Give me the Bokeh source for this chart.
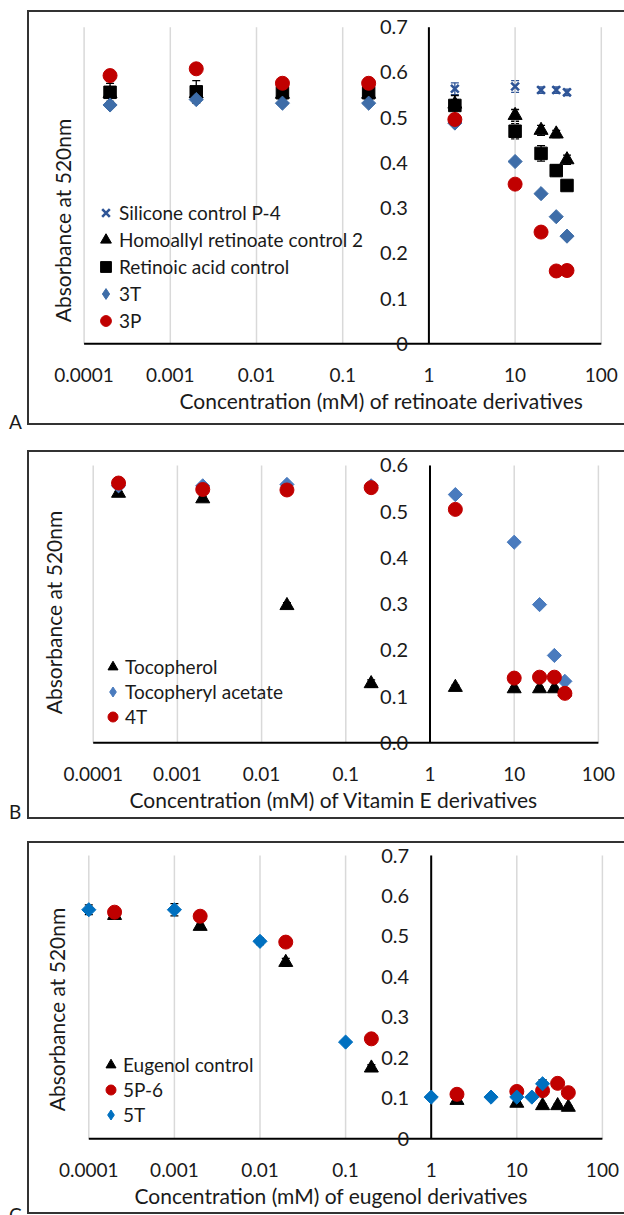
import math
from bokeh.plotting import figure
from bokeh.models import (Range1d, FixedTicker, CustomJSTickFormatter, Legend, LegendItem,
                          Label, LabelSet, ColumnDataSource, Whisker, TeeHead, Div, Spacer, Title)
from bokeh.layouts import column, row
from bokeh.embed import file_html
from bokeh.resources import INLINE
from bokeh.core.properties import value

FONT = "Lato"
TEXT = "#1a1a1a"

# ---------------- shared axis data ----------------
X_TICKS = [0.0001, 0.001, 0.01, 0.1, 1, 10, 100]
X_TICK_LABELS = ["0.0001", "0.001", "0.01", "0.1", "1", "10", "100"]
Y_AXIS_CROSS = 1

# ---------------- Panel A: retinoate derivatives ----------------
A_CONC = [0.0002, 0.002, 0.02, 0.2, 2, 10, 20, 30, 40]
A_SIL_CONC = [2, 10, 20, 30, 40]
A_SILICONE = [0.564, 0.569, 0.561, 0.561, 0.556]
A_SILICONE_ERR = [0.013, 0.013, 0.007, 0.007, 0.007]
A_HOMOALLYL = [0.553, 0.553, 0.552, 0.552, 0.530, 0.505, 0.472, 0.464, 0.407]
A_HOMOALLYL_ERR = [0.008, 0.008, 0.008, 0.008, 0.010, 0.013, 0.011, 0.008, 0.010]
A_RETINOIC = [0.556, 0.557, 0.555, 0.555, 0.527, 0.470, 0.421, 0.383, 0.350]
A_RETINOIC_ERR = [0.020, 0.025, 0.015, 0.015, 0.022, 0.017, 0.017, 0.012, 0.005]
A_3T = [0.528, 0.540, 0.532, 0.532, 0.488, 0.403, 0.332, 0.281, 0.238]
A_3P = [0.593, 0.608, 0.576, 0.576, 0.496, 0.353, 0.247, 0.161, 0.162]
A_YTICKS = [0, 0.1, 0.2, 0.3, 0.4, 0.5, 0.6, 0.7]
A_YLABELS = ["0", "0.1", "0.2", "0.3", "0.4", "0.5", "0.6", "0.7"]
A_XTITLE = "Concentration (mM) of retinoate derivatives"

# ---------------- Panel B: vitamin E derivatives ----------------
B_CONC = [0.0002, 0.002, 0.02, 0.2, 2, 10, 20, 30, 40]
B_TOCOPHEROL = [0.540, 0.528, 0.297, 0.128, 0.120, 0.117, 0.117, 0.117, 0.110]
B_TOCOPHEROL_ERR = [0.004, 0.004, 0.006, 0.008, 0.005, 0.004, 0.004, 0.004, 0.004]
B_ACETATE = [0.556, 0.556, 0.559, 0.556, 0.537, 0.434, 0.299, 0.189, 0.133]
B_4T = [0.562, 0.548, 0.547, 0.552, 0.505, 0.140, 0.142, 0.142, 0.107]
B_YTICKS = [0, 0.1, 0.2, 0.3, 0.4, 0.5, 0.6]
B_YLABELS = ["0.0", "0.1", "0.2", "0.3", "0.4", "0.5", "0.6"]
B_XTITLE = "Concentration (mM) of Vitamin E derivatives"

# ---------------- Panel C: eugenol derivatives ----------------
C_CONC = [0.0002, 0.002, 0.02, 0.2, 2, 10, 20, 30, 40]
C_EUGENOL = [0.552, 0.525, 0.436, 0.175, 0.095, 0.088, 0.082, 0.082, 0.078]
C_EUGENOL_ERR = [0.005, 0.005, 0.010, 0.008, 0.004, 0.004, 0.004, 0.004, 0.004]
C_5P6 = [0.560, 0.550, 0.486, 0.247, 0.110, 0.117, 0.119, 0.137, 0.114]
C_5T_CONC = [0.0001, 0.001, 0.01, 0.1, 1, 5, 10, 15, 20]
C_5T = [0.566, 0.566, 0.488, 0.239, 0.103, 0.103, 0.103, 0.103, 0.136]
C_5T_ERR = [0.012, 0.015, 0.008, 0.004, 0.003, 0.003, 0.003, 0.003, 0.010]
C_YTICKS = [0, 0.1, 0.2, 0.3, 0.4, 0.5, 0.6, 0.7]
C_YLABELS = ["0", "0.1", "0.2", "0.3", "0.4", "0.5", "0.6", "0.7"]
C_XTITLE = "Concentration (mM) of eugenol derivatives"

Y_TITLE = "Absorbance at 520nm"

RED = "#C00000"
BLUE_A = "#3E6DA8"
BLUE_B = "#4A7BBE"
BLUE_C = "#0070C0"
SIL = "#2F5597"
BLACK = "#000000"
GRID = "#d9d9d9"
BOX = "#333333"

W = 595          # canvas width of each panel
LETTER_W = 29    # column holding the panel letter

# pixel layout of each panel (canvas coordinates)
LAYOUT_A = dict(h=411, fl=4, fr=595, x0px=54.6, dec=86.2, y0px=331.3, pxu=452.3, ft=2, fb=343,
                xls=6, xt_off=146, xt_so=6, yt_x=29, yt_y=135, yl_off=-21,
                leg_x=59, leg_y=21, glyph=27,
                div_h=420, letter_pad=400, gap_before=12)
LAYOUT_B = dict(h=365, fl=4, fr=595, x0px=63.7, dec=84.2, y0px=290.3, pxu=462.2, ft=1, fb=302,
                xls=6, xt_off=96, xt_so=6, yt_x=20, yt_y=142, yl_off=-22,
                leg_x=67, leg_y=25, glyph=25,
                div_h=370, letter_pad=350, gap_before=20)
LAYOUT_C = dict(h=369, fl=4, fr=595, x0px=59.3, dec=85.6, y0px=295.3, pxu=404.7, ft=1, fb=306,
                xls=7, xt_off=101, xt_so=6, yt_x=23, yt_y=140, yl_off=-22,
                leg_x=65, leg_y=22, glyph=25,
                div_h=371, letter_pad=362, gap_before=21)


def make_panel(L, series, yticks, ylabels, xtitle, letter):
    log0 = math.log10(X_TICKS[0])
    xstart = 10 ** (log0 - (L["x0px"] - L["fl"]) / L["dec"])
    xend = 10 ** (log0 + (L["fr"] - L["x0px"]) / L["dec"])
    ymax = yticks[-1]
    ystart = -(L["fb"] - L["y0px"]) / L["pxu"]
    yend = (L["y0px"] - L["ft"]) / L["pxu"]
    p = figure(width=W, height=L["h"], x_axis_type="log", y_axis_location=None,
               x_range=Range1d(xstart, xend), y_range=Range1d(ystart, yend),
               output_backend="svg", toolbar_location=None, title=None,
               min_border_left=L["fl"], min_border_right=W - L["fr"],
               min_border_top=L["ft"], min_border_bottom=L["h"] - L["fb"],
               styles={"outline": "2px solid " + BOX})
    try:
        p.frame_align = False
    except Exception:
        pass
    p.outline_line_color = None
    p.background_fill_color = "white"
    p.border_fill_color = "white"
    p.xgrid.visible = False
    p.ygrid.visible = False

    xa = p.xaxis[0]
    xa.ticker = FixedTicker(ticks=X_TICKS)
    xa.formatter = CustomJSTickFormatter(args=dict(tvals=X_TICKS, tlabels=X_TICK_LABELS), code="""
        let best = 0, bd = Infinity;
        for (let i = 0; i < tvals.length; i++) {
            const d = Math.abs(Math.log10(tick) - Math.log10(tvals[i]));
            if (d < bd) { bd = d; best = i; }
        }
        return tlabels[best];
    """)
    xa.axis_line_color = None
    xa.major_tick_line_color = None
    xa.minor_tick_line_color = None
    xa.major_label_standoff = L["xls"]
    xa.major_label_text_font = FONT
    xa.major_label_text_font_size = "19px"
    xa.major_label_text_color = TEXT

    # x-axis title, placed under the tick labels
    p.add_layout(Title(text=xtitle, align="left", offset=L["xt_off"], standoff=L["xt_so"],
                       vertical_align="top", text_font=FONT, text_font_size="21px",
                       text_font_style="normal", text_color=TEXT), "below")

    # vertical gridlines at every decade, from 0 to the top of the value axis
    n = len(X_TICKS)
    p.segment(x0=X_TICKS, y0=[0] * n, x1=X_TICKS, y1=[ymax] * n, line_color=GRID, line_width=1.5)
    # axis lines (x axis at y=0, value axis crossing at x=1)
    p.segment(x0=[X_TICKS[0]], y0=[0], x1=[X_TICKS[-1]], y1=[0], line_color=BLACK, line_width=2)
    p.segment(x0=[Y_AXIS_CROSS], y0=[0], x1=[Y_AXIS_CROSS], y1=[ymax], line_color=BLACK, line_width=2)

    # value-axis tick labels next to the crossing axis
    ysrc = ColumnDataSource(dict(x=[Y_AXIS_CROSS] * len(yticks), y=yticks, text=ylabels))
    p.add_layout(LabelSet(source=ysrc, x="x", y="y", text="text", x_offset=L["yl_off"],
                          text_align="right", text_baseline="middle",
                          text_font=value(FONT), text_font_size=value("20px"),
                          text_color=TEXT))
    # value-axis title
    p.add_layout(Label(x=L["yt_x"], y=L["yt_y"], x_units="screen", y_units="screen",
                       text=Y_TITLE, angle=math.pi / 2, text_align="center",
                       text_baseline="middle", text_font=FONT, text_font_size="21px",
                       text_color=TEXT))

    items = []
    for label, xs, ys, errs, marker, color, size, ecolor in series:
        if errs is not None:
            esrc = ColumnDataSource(dict(x=xs, upper=[y + e for y, e in zip(ys, errs)],
                                         lower=[y - e for y, e in zip(ys, errs)]))
            p.add_layout(Whisker(source=esrc, base="x", upper="upper", lower="lower",
                                 dimension="height", line_color=ecolor, line_width=1.3,
                                 upper_head=TeeHead(size=8, line_color=ecolor, line_width=1.3),
                                 lower_head=TeeHead(size=8, line_color=ecolor, line_width=1.3)))
        if marker == "x":
            r = p.scatter(xs, ys, marker="x", size=size, line_color=color, line_width=2.6)
            leg_r = r
        elif marker == "diamond":
            r = p.scatter(xs, ys, marker="square", size=size, angle=math.pi / 4,
                          fill_color=color, line_color=color, line_width=1)
            # legend key proxy (kept outside the visible x range) so the key shows a diamond
            leg_r = p.scatter([xs[0] * 1e-9], [ys[0]], marker="diamond", size=size,
                              fill_color=color, line_color=color, line_width=1)
        else:
            r = p.scatter(xs, ys, marker=marker, size=size,
                          fill_color=color, line_color=color, line_width=1)
            leg_r = r
        items.append(LegendItem(label=label, renderers=[leg_r]))

    leg = Legend(items=items, location=(L["leg_x"], L["leg_y"]),
                 background_fill_alpha=0, border_line_color=None,
                 padding=0, margin=0, spacing=0,
                 glyph_width=L["glyph"], glyph_height=L["glyph"], label_standoff=0,
                 label_text_font=FONT, label_text_font_size="19px", label_text_color=TEXT)
    p.add_layout(leg)

    letter_div = Div(text=('<div style="padding-top:%dpx;padding-left:9px;font-family:Lato;'
                           'font-size:19px;line-height:19px;color:%s">%s</div>')
                     % (L["letter_pad"], TEXT, letter),
                     width=LETTER_W, height=L["div_h"], margin=0)
    return column(Spacer(height=L["gap_before"], width=10),
                  row(letter_div, p, spacing=0), spacing=0)


SER_A = [
    ("Silicone control P-4", A_SIL_CONC, A_SILICONE, A_SILICONE_ERR, "x", SIL, 11, SIL),
    ("Homoallyl retinoate control 2", A_CONC, A_HOMOALLYL, A_HOMOALLYL_ERR, "triangle", BLACK, 14, BLACK),
    ("Retinoic acid control", A_CONC, A_RETINOIC, A_RETINOIC_ERR, "square", BLACK, 12.5, BLACK),
    ("3T", A_CONC, A_3T, None, "diamond", BLUE_A, 10, BLACK),
    ("3P", A_CONC, A_3P, None, "circle", RED, 14, BLACK),
]
SER_B = [
    ("Tocopherol", B_CONC, B_TOCOPHEROL, B_TOCOPHEROL_ERR, "triangle", BLACK, 14, BLACK),
    ("Tocopheryl acetate", B_CONC, B_ACETATE, None, "diamond", BLUE_B, 10, BLACK),
    ("4T", B_CONC, B_4T, None, "circle", RED, 14, BLACK),
]
SER_C = [
    ("Eugenol control", C_CONC, C_EUGENOL, C_EUGENOL_ERR, "triangle", BLACK, 14, BLACK),
    ("5P-6", C_CONC, C_5P6, None, "circle", RED, 14, BLACK),
    ("5T", C_5T_CONC, C_5T, C_5T_ERR, "diamond", BLUE_C, 10, BLACK),
]

panel_a = make_panel(LAYOUT_A, SER_A, A_YTICKS, A_YLABELS, A_XTITLE, "A")
panel_b = make_panel(LAYOUT_B, SER_B, B_YTICKS, B_YLABELS, B_XTITLE, "B")
panel_c = make_panel(LAYOUT_C, SER_C, C_YTICKS, C_YLABELS, C_XTITLE, "C")

layout = column(panel_a, panel_b, panel_c, spacing=0)
open("out.html", "w").write(file_html(layout, INLINE))
